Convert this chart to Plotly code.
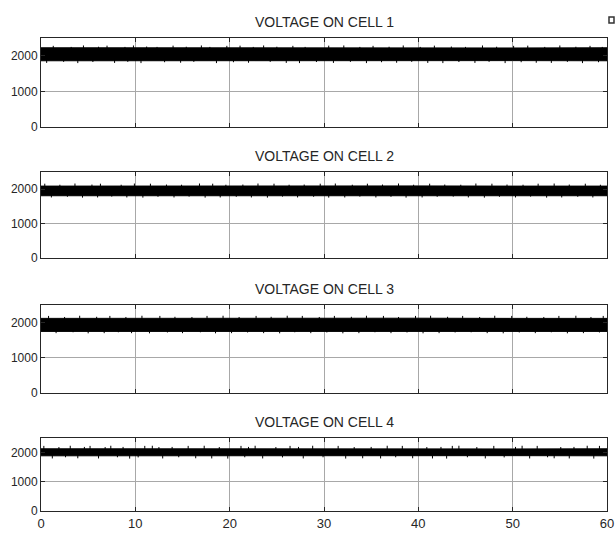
import plotly.graph_objects as go

# ---- data (values in volts, time in seconds) ----
time_s = [0, 10, 20, 30, 40, 50, 60]
titles = ["VOLTAGE ON CELL 1", "VOLTAGE ON CELL 2", "VOLTAGE ON CELL 3", "VOLTAGE ON CELL 4"]
x_ticks = [0, 10, 20, 30, 40, 50, 60]
y_ticks = [0, 1000, 2000]

# dense band (min / max envelope of the noisy signal)
cell1_high = [2225, 2220, 2225, 2220, 2225, 2220, 2225]
cell1_low = [1860, 1865, 1860, 1865, 1860, 1865, 1860]
cell2_high = [2090, 2095, 2090, 2090, 2095, 2090, 2090]
cell2_low = [1810, 1805, 1810, 1810, 1805, 1810, 1810]
cell3_high = [2120, 2125, 2120, 2120, 2125, 2120, 2120]
cell3_low = [1750, 1745, 1750, 1750, 1745, 1750, 1750]
cell4_high = [2130, 2125, 2130, 2125, 2130, 2125, 2130]
cell4_low = [1890, 1895, 1890, 1895, 1890, 1895, 1890]

# isolated peaks sticking out of the band
cell1_peak_t = [1.3, 3.2, 4.5, 6.1, 7.0, 8.9, 9.8, 11.2, 12.3, 14.0, 15.4, 17.0, 17.9, 19.7,
                21.1, 22.5, 23.6, 25.0, 26.7, 28.0, 30.5, 32.1, 33.8, 35.2, 36.9, 38.4, 40.2,
                41.7, 43.5, 45.0, 46.8, 48.3, 50.1, 51.6, 53.4, 55.0, 56.7, 58.2, 59.5]
cell1_peak_v = [2280, 2250, 2290, 2255, 2285, 2250, 2290, 2260, 2250, 2285, 2255, 2290, 2250, 2280,
                2285, 2250, 2290, 2255, 2280, 2250, 2285, 2290, 2250, 2280, 2255, 2290, 2250,
                2285, 2260, 2250, 2290, 2255, 2280, 2285, 2250, 2290, 2255, 2280, 2250]
cell1_dip_t = [0.6, 2.4, 3.9, 5.5, 7.8, 9.2, 10.6, 13.1, 14.8, 16.2, 18.6, 20.4, 22.0, 24.3,
               26.0, 27.4, 29.2, 31.0, 32.8, 34.5, 36.1, 37.7, 39.3, 41.0, 42.6, 44.3, 46.0,
               47.5, 49.2, 50.9, 52.5, 54.1, 55.8, 57.4, 59.1]
cell1_dip_v = [1800, 1830, 1795, 1825, 1800, 1830, 1795, 1820, 1805, 1830, 1795, 1820, 1805, 1830,
               1800, 1795, 1825, 1800, 1830, 1795, 1820, 1805, 1830, 1800, 1795, 1825, 1800,
               1830, 1795, 1820, 1805, 1800, 1830, 1795, 1820]

cell2_peak_t = [0.4, 2.0, 3.6, 5.4, 6.3, 8.5, 9.9, 11.6, 13.3, 14.9, 16.8, 18.2, 19.6, 21.4,
                23.0, 24.7, 26.3, 27.9, 29.6, 31.2, 33.0, 34.6, 36.2, 37.9, 39.5, 41.2, 42.8,
                44.5, 46.1, 47.8, 49.4, 51.1, 52.7, 54.4, 56.0, 57.7, 59.3]
cell2_peak_v = [2160, 2130, 2165, 2135, 2160, 2130, 2165, 2160, 2135, 2130, 2165, 2160, 2130, 2135,
                2165, 2160, 2130, 2135, 2160, 2165, 2130, 2160, 2135, 2165, 2130, 2160, 2135,
                2130, 2165, 2160, 2135, 2130, 2160, 2165, 2135, 2160, 2130]
cell2_dip_t = [1.1, 2.8, 4.4, 6.0, 7.5, 9.1, 10.8, 12.4, 14.1, 15.7, 17.4, 19.0, 20.7, 22.3,
               24.0, 25.6, 27.2, 28.9, 30.5, 32.2, 33.8, 35.5, 37.1, 38.7, 40.4, 42.0, 43.7,
               45.3, 47.0, 48.6, 50.3, 51.9, 53.6, 55.2, 56.9, 58.5]
cell2_dip_v = [1760, 1780, 1755, 1760, 1785, 1760, 1755, 1780, 1760, 1785, 1755, 1760, 1780, 1760,
               1755, 1785, 1760, 1780, 1755, 1760, 1785, 1760, 1780, 1755, 1760, 1780, 1785,
               1760, 1755, 1780, 1760, 1785, 1755, 1760, 1780, 1760]

cell3_peak_t = [0.8, 2.5, 4.1, 5.9, 7.3, 9.0, 10.7, 12.6, 14.2, 16.0, 17.6, 19.3, 21.0, 22.8,
                24.4, 26.1, 27.7, 29.5, 31.1, 32.9, 34.5, 36.3, 37.9, 39.7, 41.3, 43.1, 44.7,
                46.5, 48.1, 49.9, 51.5, 53.3, 54.9, 56.7, 58.3, 59.6]
cell3_peak_v = [2190, 2160, 2195, 2165, 2190, 2160, 2195, 2190, 2165, 2160, 2190, 2195, 2160, 2190,
                2165, 2195, 2190, 2160, 2190, 2165, 2195, 2190, 2160, 2190, 2195, 2165, 2190,
                2160, 2195, 2190, 2165, 2160, 2190, 2195, 2160, 2190]
cell3_dip_t = [1.6, 3.4, 5.0, 6.7, 8.2, 9.6, 11.5, 13.4, 15.0, 16.9, 18.5, 20.2, 21.9, 23.6,
               25.3, 26.9, 28.6, 30.3, 32.0, 33.7, 35.4, 37.1, 38.8, 40.5, 42.2, 43.9, 45.6,
               47.3, 49.0, 50.7, 52.4, 54.1, 55.8, 57.5, 59.2]
cell3_dip_v = [1700, 1725, 1695, 1700, 1725, 1700, 1695, 1720, 1700, 1725, 1695, 1700, 1720, 1700,
               1695, 1725, 1700, 1720, 1695, 1700, 1725, 1700, 1720, 1695, 1700, 1720, 1725,
               1700, 1695, 1720, 1700, 1725, 1695, 1700, 1720]

cell4_peak_t = [0.3, 1.9, 3.1, 4.6, 5.2, 6.8, 7.4, 8.7, 11.0, 11.8, 12.5, 13.9, 15.6, 17.3,
                18.9, 21.2, 22.0, 22.7, 24.9, 26.4, 27.3, 28.8, 31.5, 33.2, 35.0, 36.7, 38.3,
                40.9, 42.4, 43.6, 44.3, 46.2, 48.0, 50.3, 51.0, 52.6, 55.1, 56.5, 57.9, 59.2]
cell4_peak_v = [2230, 2190, 2235, 2195, 2230, 2190, 2235, 2195, 2230, 2235, 2190, 2195, 2230, 2235,
                2190, 2230, 2195, 2235, 2190, 2230, 2195, 2235, 2230, 2190, 2195, 2235, 2230,
                2190, 2195, 2230, 2235, 2190, 2230, 2195, 2235, 2230, 2190, 2195, 2235, 2230]
cell4_dip_t = [1.2, 2.6, 3.9, 6.1, 8.1, 9.4, 10.3, 12.9, 14.6, 16.4, 18.1, 19.8, 21.6, 23.5,
               25.6, 27.8, 29.9, 32.3, 34.1, 36.0, 37.6, 39.4, 41.5, 43.0, 45.2, 47.1, 49.1,
               51.8, 53.7, 54.4, 56.0, 58.6]
cell4_dip_v = [1800, 1840, 1805, 1800, 1840, 1795, 1835, 1800, 1840, 1805, 1800, 1795, 1840, 1800,
               1835, 1800, 1840, 1795, 1805, 1800, 1840, 1805, 1800, 1795, 1840, 1800, 1835,
               1800, 1840, 1805, 1800, 1795]

cells = [
    (cell1_high, cell1_low, cell1_peak_t, cell1_peak_v, cell1_dip_t, cell1_dip_v),
    (cell2_high, cell2_low, cell2_peak_t, cell2_peak_v, cell2_dip_t, cell2_dip_v),
    (cell3_high, cell3_low, cell3_peak_t, cell3_peak_v, cell3_dip_t, cell3_dip_v),
    (cell4_high, cell4_low, cell4_peak_t, cell4_peak_v, cell4_dip_t, cell4_dip_v),
]

# ---- layout ----
W, H = 616, 534
ML, MR, MT, MB = 41, 9, 38, 23
plot_h = H - MT - MB
pix_rows = [(38, 127), (172, 258), (305, 393), (438, 511)]
domains = [((H - MB - b) / plot_h, (H - MB - t) / plot_h) for t, b in pix_rows]

FONT = "Liberation Sans, Arial, sans-serif"
TXT = "#262626"

fig = go.Figure()
layout = dict(
    width=W, height=H,
    margin=dict(l=ML, r=MR, t=MT, b=MB, autoexpand=False),
    paper_bgcolor="white", plot_bgcolor="white",
    showlegend=False,
    font=dict(family=FONT, size=12, color=TXT),
)

annotations = []
for i, (hi, lo, pt, pv, dt, dv) in enumerate(cells):
    n = i + 1
    xa = "x" if n == 1 else f"x{n}"
    ya = "y" if n == 1 else f"y{n}"
    bx = list(time_s) + list(reversed(time_s))
    by = list(hi) + list(reversed(lo))
    fig.add_trace(go.Scatter(x=bx, y=by, fill="toself", fillcolor="black",
                             line=dict(color="black", width=1), mode="lines",
                             xaxis=xa, yaxis=ya, hoverinfo="skip"))
    sx, sy = [], []
    for t, v in zip(pt, pv):
        sx += [t, t, None]
        sy += [2000, v, None]
    for t, v in zip(dt, dv):
        sx += [t, t, None]
        sy += [2000, v, None]
    fig.add_trace(go.Scatter(x=sx, y=sy, mode="lines",
                             line=dict(color="black", width=1),
                             xaxis=xa, yaxis=ya, hoverinfo="skip"))

    xkey = "xaxis" if n == 1 else f"xaxis{n}"
    ykey = "yaxis" if n == 1 else f"yaxis{n}"
    layout[xkey] = dict(
        domain=[0, 1], anchor=ya, range=[0, 60], automargin=False,
        tickvals=x_ticks, showticklabels=(n == 4),
        ticks="inside", ticklen=4, tickcolor="#262626",
        showgrid=True, gridcolor="#a8a8a8", gridwidth=1,
        showline=True, linecolor="#262626", linewidth=1, mirror="ticks",
        zeroline=False, tickfont=dict(size=13, color=TXT, family=FONT),
    )
    layout[ykey] = dict(
        domain=list(domains[i]), anchor=xa, range=[0, 2500], automargin=False,
        tickvals=y_ticks, ticktext=[str(v) for v in y_ticks],
        ticks="inside", ticklen=4, tickcolor="#262626",
        showgrid=True, gridcolor="#a8a8a8", gridwidth=1,
        showline=True, linecolor="#262626", linewidth=1, mirror="ticks",
        zeroline=False, tickfont=dict(size=12, color=TXT, family=FONT),
    )
    annotations.append(dict(
        text=titles[i], x=0.5, xref="paper", y=domains[i][1], yref="paper",
        xanchor="center", yanchor="bottom", yshift=6, showarrow=False,
        font=dict(size=14, color=TXT, family=FONT),
    ))

layout["annotations"] = annotations
pw = W - ML - MR
layout["shapes"] = [dict(type="rect", xref="paper", yref="paper",
                         x0=1.0 + 2 / pw, x1=1.0 + 7 / pw,
                         y0=1.0 + 15 / plot_h, y1=1.0 + 21 / plot_h,
                         line=dict(color="#333333", width=1.5), fillcolor="white")]
fig.update_layout(**layout)

# remove the default page margin so the figure fills the window exactly
page_fix = ("document.body.style.margin='0';"
            "document.body.style.overflow='hidden';"
            "document.documentElement.style.overflow='hidden';")
fig.write_html("out.html", post_script=page_fix, config={"displayModeBar": False})
